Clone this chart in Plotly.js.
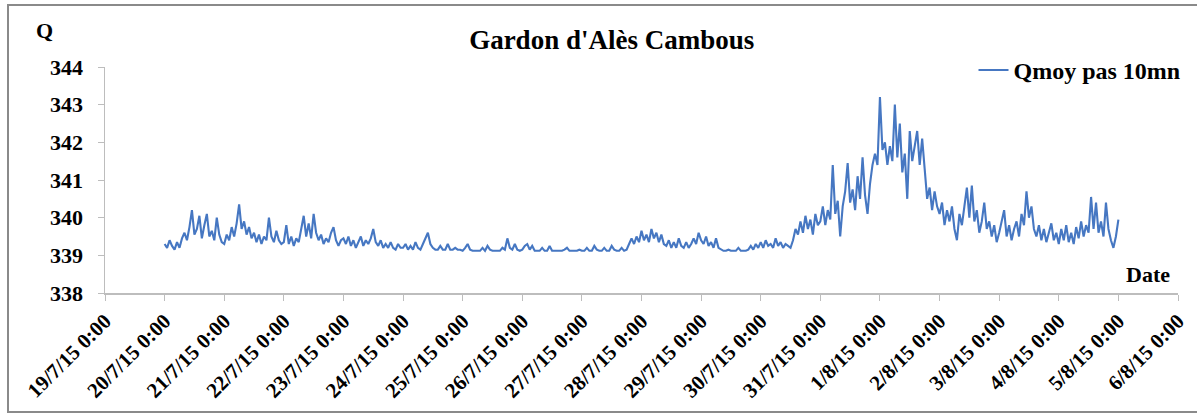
<!DOCTYPE html>
<html>
<head>
<meta charset="utf-8">
<script src="https://cdn.plot.ly/plotly-3.0.1.min.js"></script>
<style>
  html, body { margin: 0; padding: 0; background: #fff; }
  #wrap { position: relative; width: 1197px; height: 413px; overflow: hidden; }
  #chart { position: absolute; left: 0; top: 0; width: 1197px; height: 413px; }
  #frame { position: absolute; left: 7px; top: 4px; width: 1200px; height: 405px;
           border: 2px solid #8a8a8a; pointer-events: none; box-sizing: content-box; }
</style>
</head>
<body>
<div id="wrap">
  <div id="chart"></div>
  <div id="frame"></div>
</div>
<script>
// ---- Data (one value every hour) ----
const seriesName = "Qmoy pas 10mn";
const startTime = "2015-07-20T00:00:00";
const stepHours = 1;

const q_20_07 = [339.30, 339.20, 339.40, 339.25, 339.15, 339.35, 339.20, 339.45, 339.60, 339.40, 339.75, 340.20, 339.55, 339.70, 340.05, 339.45, 339.80, 340.10, 339.50, 339.65, 339.40, 340.00, 339.55, 339.35];
const q_21_07 = [339.30, 339.55, 339.40, 339.75, 339.50, 339.85, 340.35, 339.70, 339.90, 339.55, 339.75, 339.45, 339.60, 339.35, 339.55, 339.30, 339.50, 339.40, 340.00, 339.50, 339.35, 339.65, 339.40, 339.30];
const q_22_07 = [339.35, 339.80, 339.30, 339.50, 339.25, 339.45, 339.35, 339.70, 340.05, 339.50, 339.85, 339.45, 340.10, 339.60, 339.40, 339.55, 339.30, 339.45, 339.35, 339.60, 339.75, 339.40, 339.25, 339.40];
const q_23_07 = [339.45, 339.30, 339.50, 339.25, 339.40, 339.20, 339.35, 339.50, 339.25, 339.40, 339.30, 339.45, 339.70, 339.35, 339.25, 339.40, 339.20, 339.30, 339.20, 339.35, 339.20, 339.15, 339.30, 339.20];
const q_24_07 = [339.20, 339.30, 339.15, 339.25, 339.15, 339.35, 339.20, 339.15, 339.30, 339.45, 339.60, 339.30, 339.20, 339.15, 339.15, 339.25, 339.15, 339.15, 339.30, 339.15, 339.15, 339.20, 339.15, 339.15];
const q_25_07 = [339.12, 339.20, 339.30, 339.15, 339.12, 339.12, 339.12, 339.12, 339.20, 339.12, 339.25, 339.15, 339.12, 339.12, 339.12, 339.12, 339.20, 339.15, 339.45, 339.20, 339.15, 339.30, 339.15, 339.12];
const q_26_07 = [339.15, 339.25, 339.30, 339.15, 339.25, 339.12, 339.12, 339.12, 339.20, 339.12, 339.12, 339.25, 339.12, 339.12, 339.12, 339.12, 339.12, 339.15, 339.20, 339.12, 339.12, 339.12, 339.12, 339.15];
const q_27_07 = [339.12, 339.12, 339.20, 339.12, 339.12, 339.25, 339.15, 339.12, 339.12, 339.20, 339.12, 339.12, 339.25, 339.15, 339.12, 339.12, 339.20, 339.12, 339.15, 339.30, 339.45, 339.30, 339.50, 339.35];
const q_28_07 = [339.65, 339.40, 339.55, 339.35, 339.70, 339.45, 339.60, 339.35, 339.55, 339.30, 339.25, 339.40, 339.20, 339.35, 339.20, 339.45, 339.25, 339.20, 339.35, 339.20, 339.30, 339.45, 339.30, 339.60];
const q_29_07 = [339.40, 339.30, 339.50, 339.25, 339.35, 339.20, 339.45, 339.20, 339.15, 339.12, 339.12, 339.15, 339.12, 339.12, 339.12, 339.20, 339.12, 339.12, 339.12, 339.15, 339.25, 339.15, 339.30, 339.20];
const q_30_07 = [339.35, 339.20, 339.40, 339.25, 339.30, 339.20, 339.45, 339.25, 339.35, 339.20, 339.30, 339.25, 339.20, 339.40, 339.70, 339.55, 339.90, 339.60, 340.05, 339.70, 339.95, 339.55, 340.10, 339.80];
const q_31_07 = [339.90, 340.30, 339.80, 340.20, 339.95, 341.40, 340.10, 340.45, 339.50, 340.30, 340.70, 341.45, 340.40, 340.75, 340.20, 341.10, 340.50, 341.60, 340.60, 340.10, 340.90, 341.40, 341.70, 341.40];
const q_01_08 = [343.20, 341.80, 342.00, 341.40, 341.90, 341.50, 343.00, 341.60, 342.50, 341.20, 341.70, 340.50, 342.30, 341.50, 341.90, 342.30, 341.40, 342.10, 341.30, 340.50, 340.80, 340.20, 340.70, 340.30];
const q_02_08 = [340.10, 340.40, 339.80, 340.20, 339.90, 340.30, 339.70, 339.40, 340.10, 339.80, 340.30, 340.80, 340.00, 340.85, 339.90, 340.20, 339.60, 339.90, 340.40, 339.70, 339.90, 339.50, 339.80, 339.35];
const q_03_08 = [339.60, 339.90, 340.20, 339.50, 339.80, 339.40, 339.70, 339.90, 339.50, 340.10, 339.80, 340.70, 340.00, 340.30, 339.70, 339.50, 339.80, 339.40, 339.70, 339.35, 339.60, 339.85, 339.40, 339.60];
const q_04_08 = [339.30, 339.70, 339.40, 339.80, 339.35, 339.60, 339.30, 339.75, 339.45, 339.90, 339.50, 339.80, 339.60, 340.55, 339.70, 340.40, 339.60, 339.90, 339.50, 340.40, 339.70, 339.40, 339.20, 339.50];
const q_05_08 = [339.95];

const tickDates = ["2015-07-19","2015-07-20","2015-07-21","2015-07-22","2015-07-23","2015-07-24",
  "2015-07-25","2015-07-26","2015-07-27","2015-07-28","2015-07-29","2015-07-30","2015-07-31",
  "2015-08-01","2015-08-02","2015-08-03","2015-08-04","2015-08-05","2015-08-06"];
const tickLabels = ["19/7/15 0:00","20/7/15 0:00","21/7/15 0:00","22/7/15 0:00","23/7/15 0:00",
  "24/7/15 0:00","25/7/15 0:00","26/7/15 0:00","27/7/15 0:00","28/7/15 0:00","29/7/15 0:00",
  "30/7/15 0:00","31/7/15 0:00","1/8/15 0:00","2/8/15 0:00","3/8/15 0:00","4/8/15 0:00",
  "5/8/15 0:00","6/8/15 0:00"];
const yTicks = [338, 339, 340, 341, 342, 343, 344];

// ---- Build trace ----
const qValues = [].concat(q_20_07, q_21_07, q_22_07, q_23_07, q_24_07, q_25_07, q_26_07, q_27_07,
  q_28_07, q_29_07, q_30_07, q_31_07, q_01_08, q_02_08, q_03_08, q_04_08, q_05_08);
const t0 = new Date(startTime + "Z").getTime();
function fmt(ms) {
  const d = new Date(ms);
  const p = n => String(n).padStart(2, "0");
  return d.getUTCFullYear() + "-" + p(d.getUTCMonth() + 1) + "-" + p(d.getUTCDate()) + " " +
         p(d.getUTCHours()) + ":" + p(d.getUTCMinutes());
}
const times = qValues.map((_, i) => fmt(t0 + i * stepHours * 3600 * 1000));

const FONT = "Liberation Serif, Times New Roman, serif";
const axisGray = "#bdbdbd";

const trace = {
  x: times, y: qValues, type: "scatter", mode: "lines", name: seriesName,
  line: { color: "#4677c2", width: 2.1 }
};

const layout = {
  width: 1197, height: 413,
  margin: { l: 105, r: 11, t: 67, b: 120 },
  paper_bgcolor: "rgba(0,0,0,0)", plot_bgcolor: "#fff",
  font: { family: FONT, color: "#000" },
  title: { text: "Gardon d'Alès Cambous", font: { family: FONT, size: 27, weight: "bold", color: "#000" },
           x: 0.511, xref: "container", xanchor: "center", y: 0.905, yref: "container", yanchor: "middle" },
  showlegend: true,
  legend: { x: 1.007, xanchor: "right", y: 0.985, yanchor: "middle", bgcolor: "rgba(0,0,0,0)",
            font: { family: FONT, size: 24, weight: "bold", color: "#000" } },
  xaxis: {
    type: "date", range: ["2015-07-19", "2015-08-06"],
    tickmode: "array", tickvals: tickDates, ticktext: tickLabels, tickangle: -45,
    ticks: "outside", ticklen: 6, tickcolor: axisGray, tickwidth: 1,
    showline: true, linecolor: axisGray, linewidth: 1.5,
    showgrid: false, zeroline: false,
    tickfont: { family: FONT, size: 21, weight: "bold", color: "#000" }
  },
  yaxis: {
    range: [338, 344], tickmode: "array", tickvals: yTicks, ticktext: yTicks.map(String),
    ticks: "outside", ticklen: 6, tickcolor: axisGray, tickwidth: 1,
    showline: true, linecolor: axisGray, linewidth: 1.5,
    showgrid: false, zeroline: false, ticklabelstandoff: 10,
    tickfont: { family: FONT, size: 22, weight: "bold", color: "#000" }
  },
  annotations: [
    { text: "Q", xref: "paper", yref: "paper", x: -0.056, y: 1.16, xanchor: "center", yanchor: "middle",
      showarrow: false, font: { family: FONT, size: 22, weight: "bold", color: "#000" } },
    { text: "Date", xref: "paper", yref: "paper", x: 0.972, y: 0.08, xanchor: "center", yanchor: "middle",
      showarrow: false, font: { family: FONT, size: 22, weight: "bold", color: "#000" } }
  ]
};

Plotly.newPlot("chart", [trace], layout, { displayModeBar: false, staticPlot: true });
</script>
</body>
</html>
